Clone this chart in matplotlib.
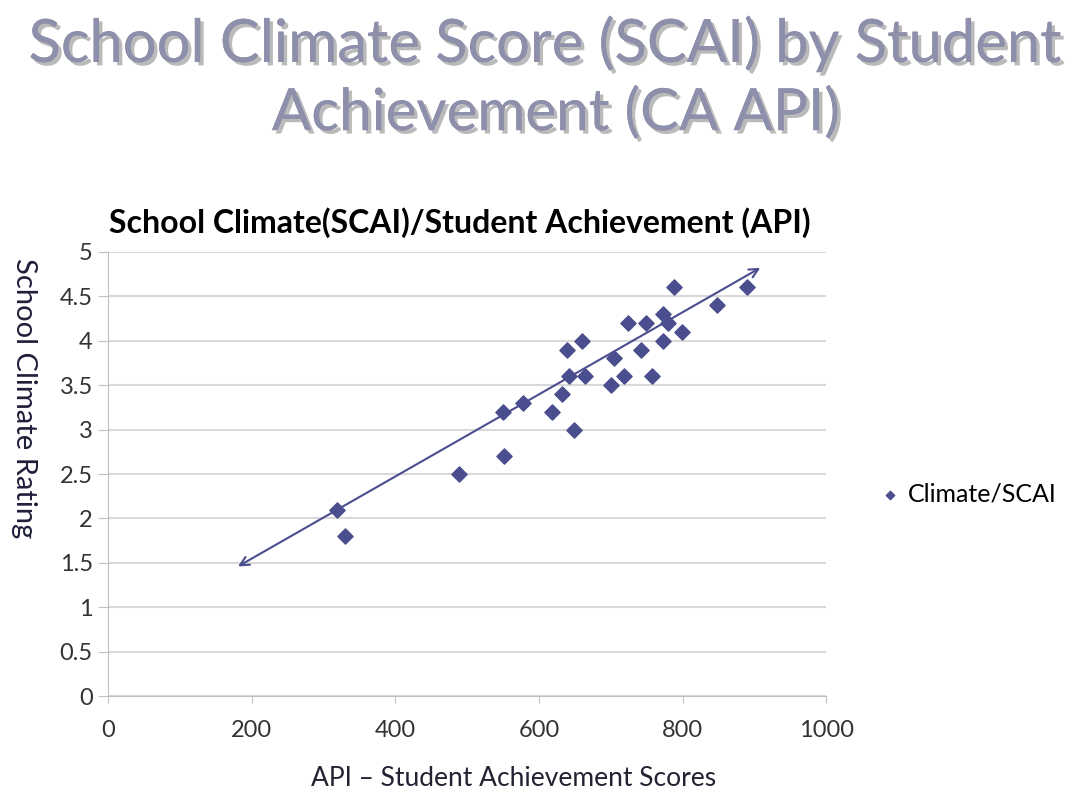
import numpy as np
import matplotlib.pyplot as plt
import matplotlib.patheffects as pe

# API score vs climate rating
api = [319, 330, 489, 550, 551, 578, 618, 632, 639, 642, 649, 660, 664, 700,
       704, 719, 724, 742, 749, 758, 772, 773, 780, 788, 799, 848, 890]
scai = [2.1, 1.8, 2.5, 3.2, 2.7, 3.3, 3.2, 3.4, 3.9, 3.6, 3.0, 4.0, 3.6, 3.5,
        3.8, 3.6, 4.2, 3.9, 4.2, 3.6, 4.0, 4.3, 4.2, 4.6, 4.1, 4.4, 4.6]

# hand drawn trend arrow (start, end)
trend_x = [181, 908]
trend_y = [1.46, 4.82]

x_ticks = [0, 200, 400, 600, 800, 1000]
y_ticks = [0, 0.5, 1, 1.5, 2, 2.5, 3, 3.5, 4, 4.5, 5]

plt.rcParams['font.family'] = ['Lato', 'DejaVu Sans']
point_color = '#4a4d8e'

fig = plt.figure(figsize=(10.69, 7.92), dpi=100)
ax = fig.add_axes([0.101, 0.121, 0.672, 0.561])

ax.scatter(api, scai, marker='D', s=60, color=point_color, zorder=3, label='Climate/SCAI')
ax.annotate('', xy=(trend_x[1], trend_y[1]), xytext=(trend_x[0], trend_y[0]),
            arrowprops=dict(arrowstyle='<->', color=point_color, lw=1.5,
                            mutation_scale=16, shrinkA=0, shrinkB=0), zorder=2)

ax.set_xlim(0, 1000)
ax.set_ylim(0, 5)
ax.set_xticks(x_ticks)
ax.set_yticks(y_ticks)
ax.set_yticklabels([f'{v:g}' for v in y_ticks])
ax.tick_params(labelsize=17, labelcolor='#333333', color='#bfbfbf')
ax.tick_params(axis='y', length=7, pad=4)
ax.tick_params(axis='x', length=5, pad=12)
ax.grid(axis='y', color='#d9d9d9', linewidth=1.5)
ax.set_axisbelow(True)
for s in ['top', 'right']:
    ax.spines[s].set_visible(False)
ax.spines['left'].set_color('#bfbfbf')
ax.spines['bottom'].set_color('#bfbfbf')

ax.set_title('School Climate(SCAI)/Student Achievement (API)', fontsize=23,
             fontweight='bold', pad=14, x=0.49)
ax.set_xlabel('API \u2013 Student Achievement Scores', fontsize=19, color='#222233')
ax.xaxis.set_label_coords(0.564, -0.158)
fig.text(0.022, 0.497, 'School Climate Rating', rotation=-90, fontsize=21,
         ha='center', va='center', color='#1f1f3a')

leg = ax.legend(loc='center left', bbox_to_anchor=(1.075, 0.455), frameon=False,
                fontsize=18, handlelength=0.8, handletextpad=0.3, markerscale=0.55,
                borderaxespad=0, borderpad=0)

shadow = [pe.withSimplePatchShadow(offset=(2.5, -2.5), shadow_rgbFace='#666666', alpha=0.45),
          pe.Normal()]
fig.text(0.51, 0.945, 'School Climate Score (SCAI) by Student', fontsize=43,
         color='#8d8fab', ha='center', va='center', path_effects=shadow)
fig.text(0.52, 0.857, 'Achievement (CA API)', fontsize=42,
         color='#8d8fab', ha='center', va='center', path_effects=shadow)

fig.savefig('out.png', dpi=100)
